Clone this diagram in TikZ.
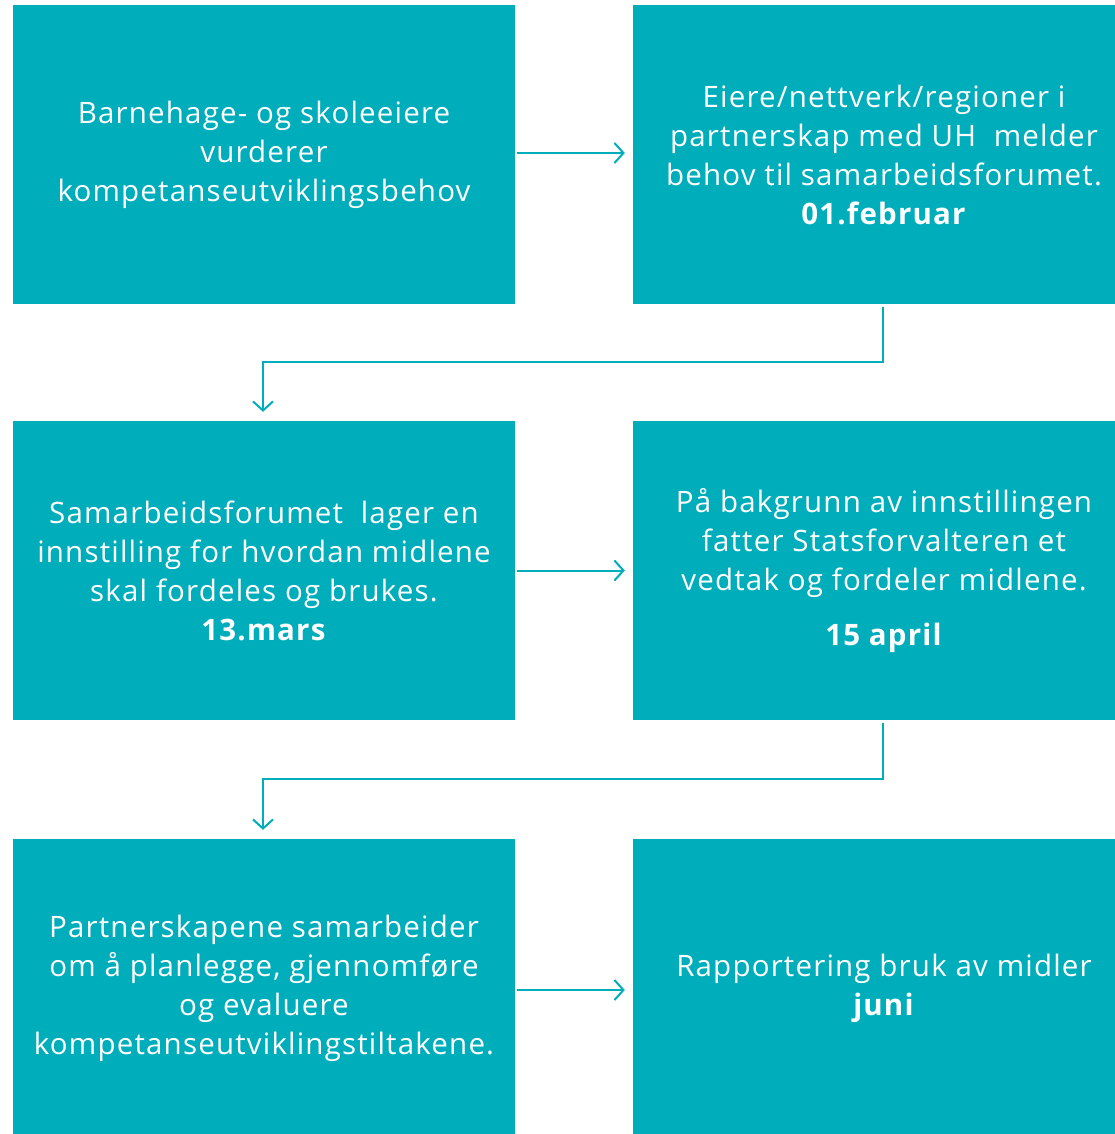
\documentclass[tikz,border=0pt]{standalone}
\usepackage{fontspec}
\setmainfont{Open Sans}[LetterSpace = 4]
\usetikzlibrary{arrows.meta}
\definecolor{teal}{RGB}{0,173,187}
\tikzset{
  stepbox/.style = {fill = teal, text = white, minimum width = 502pt,
                    minimum height = 299pt, align = center, inner sep = 0pt,
                    font = \fontsize{29.5}{39}\selectfont},
  flow/.style = {teal, line width = 2pt,
                 -{Straight Barb[length = 9pt, width = 20pt, line width = 2pt]}}
}
\begin{document}
\begin{tikzpicture}[x = 1pt, y = -1pt]
  \clip (0, 0) rectangle (1115, 1134);
  \node[stepbox] (eiere)   at (264, 154.5) {Barnehage- og skoleeiere\\ vurderer\\ kompetanseutviklingsbehov};
  \node[stepbox] (behov)   at (884, 154.5) {Eiere/nettverk/regioner i\\ partnerskap med UH \ melder\\ behov til samarbeidsforumet.\\ \textbf{01.februar}};
  \node[stepbox] (forum)   at (264, 570.5) {Samarbeidsforumet \ lager en\\ innstilling for hvordan midlene\\ skal fordeles og brukes.\\ \textbf{13.mars}};
  \node[stepbox] (vedtak)  at (884, 570.5) {På bakgrunn av innstillingen\\ fatter Statsforvalteren et\\ vedtak og fordeler midlene.\\[16pt] \textbf{15 april}};
  \node[stepbox] (partner) at (264, 988.5) {Partnerskapene samarbeider\\ om å planlegge, gjennomføre\\ og evaluere\\ kompetanseutviklingstiltakene.};
  \node[stepbox] (rapport) at (884, 988.5) {Rapportering bruk av midler\\ \textbf{juni}};
  % turning points of the two long connectors
  \coordinate (bend1) at (263, 362);
  \coordinate (bend2) at (263, 779);
  \draw[flow, shorten <= 2pt, shorten >= 8pt] (eiere.east |- 0, 153) -- (behov.west |- 0, 153);
  \draw[flow, shorten <= 2pt, shorten >= 8pt] (forum) -- (vedtak.west |- forum);
  \draw[flow, shorten <= 2pt, shorten >= 8pt] (partner.east |- 0, 990) -- (rapport.west |- 0, 990);
  \draw[flow, shorten <= 3pt, shorten >= 9pt] (behov.south -| 883, 0) |- (bend1) -- (forum.north -| bend1);
  \draw[flow, shorten <= 3pt, shorten >= 9pt] (vedtak.south -| 883, 0) |- (bend2) -- (partner.north -| bend2);
\end{tikzpicture}
\end{document}
